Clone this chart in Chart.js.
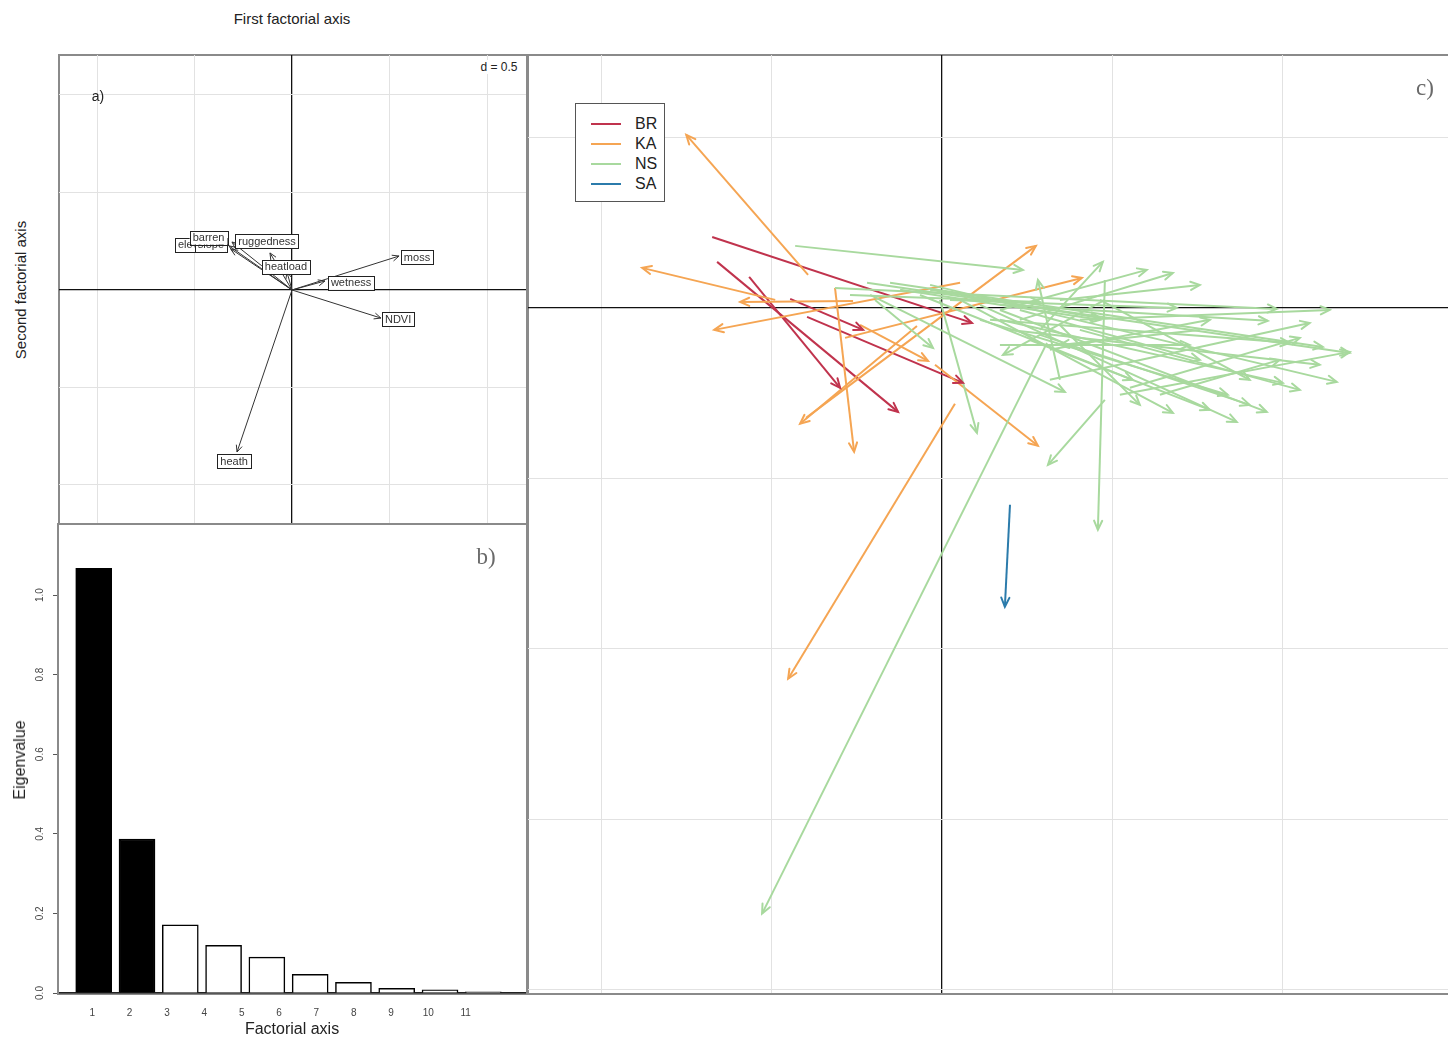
<!DOCTYPE html>
<html lang="en">
<head>
  <meta charset="UTF-8" />
  <title>Factorial analysis</title>
  <script src="https://cdn.jsdelivr.net/npm/chart.js"></script>
  <style>
    body {
      margin: 0;
      width: 1448px;
      height: 1040px;
      position: relative;
      overflow: hidden;
      background: #fff;
      font-family: 'Liberation Sans', Arial, sans-serif;
      color: #222;
    }
    .frame { position: absolute; border: 2px solid #8a8a8a; box-sizing: border-box; }
    canvas { position: absolute; }
    .txt { position: absolute; white-space: nowrap; transform: translate(-50%, -50%); }
    .rot { transform: translate(-50%, -50%) rotate(-90deg); }
    .serif { font-family: 'Liberation Serif', 'DejaVu Serif', serif; color: #6a6a6a; font-size: 23px; }
    .legend {
      position: absolute; left: 575px; top: 103px; width: 90px; height: 99px;
      box-sizing: border-box; border: 1.5px solid #555; background: #fff;
      padding-top: 10px;
    }
    .legend div { height: 20px; display: flex; align-items: center; font-size: 16px; }
    .legend i { display: inline-block; width: 30px; height: 2px; margin: 0 14px 0 15px; }
  </style>
</head>
<body>

  <div class="frame" style="left:58px; top:54px; width:470px; height:471px;"></div>
  <div class="frame" style="left:57px; top:523px; width:471px; height:472px;"></div>
  <div class="frame" style="left:527px; top:54px; width:930px; height:941px;"></div>

  <canvas id="varChart" width="467" height="468" style="left:59px; top:55px;"></canvas>
  <canvas id="eigChart" width="526" height="515" style="left:0px; top:525px;"></canvas>
  <canvas id="siteChart" width="920" height="938" style="left:528px; top:55px;"></canvas>

  <div class="txt" style="left:292px; top:18px; font-size:15px;">First factorial axis</div>
  <div class="txt rot" style="left:20px; top:290px; font-size:15px;">Second factorial axis</div>
  <div class="txt rot" style="left:20px; top:760px; font-size:16px;">Eigenvalue</div>
  <div class="txt" style="left:292px; top:1029px; font-size:16px;">Factorial axis</div>
  <div class="txt" style="left:98px; top:96px; font-size:14px;">a)</div>
  <div class="txt" style="left:499px; top:67px; font-size:12px; background:#fff; padding:0 2px;">d = 0.5</div>
  <div class="txt serif" style="left:486px; top:557px;">b)</div>
  <div class="txt serif" style="left:1425px; top:88px;">c)</div>

  <div class="legend" id="legend"></div>

  <script>
    // a) variable loadings on the first two factorial axes
    const varNames = ['elevation', 'slope', 'barren', 'ruggedness', 'heatload', 'wetness', 'moss', 'NDVI', 'heath'];
    const varX = [-0.323, -0.313, -0.308, -0.113, -0.026, 0.169, 0.549, 0.456, -0.282];
    const varY = [0.226, 0.210, 0.246, 0.190, 0.092, 0.046, 0.174, -0.144, -0.831];
    const labelX = [-0.472, -0.416, -0.428, -0.128, -0.031, 0.303, 0.641, 0.544, -0.297];
    const labelY = [0.231, 0.231, 0.269, 0.251, 0.118, 0.036, 0.169, -0.149, -0.877];

    // b) eigenvalues, first two axes kept
    const eigenvalues = [1.067, 0.387, 0.171, 0.120, 0.090, 0.047, 0.027, 0.012, 0.008, 0.003];
    const keptAxes = 2;
    const axisLabels = ['1', '2', '3', '4', '5', '6', '7', '8', '9', '10', '11'];
    const eigTicks = [0, 0.2, 0.4, 0.6, 0.8, 1.0];

    // c) site trajectories [x0, y0, x1, y1] per region
    const brArrows = [
      [-1.349, 0.416, 0.176, -0.088],
      [-1.320, 0.270, -0.258, -0.610],
      [-1.132, 0.182, -0.598, -0.469],
      [-0.891, 0.053, -0.463, -0.129],
      [-0.792, -0.053, 0.123, -0.440]
    ];
    const kaArrows = [
      [-0.786, 0.194, -1.501, 1.015],
      [-0.979, 0.047, -1.760, 0.235],
      [-0.522, 0.041, -1.185, 0.035],
      [0.106, 0.147, -1.337, -0.129],
      [-0.147, -0.106, -0.833, -0.680],
      [-0.798, -0.645, 0.551, 0.364],
      [-0.628, 0.117, -0.516, -0.845],
      [-0.569, -0.176, 0.821, 0.176],
      [-0.481, -0.100, -0.082, -0.311],
      [-0.041, -0.334, 0.563, -0.809],
      [0.076, -0.563, -0.903, -2.176]
    ];
    const nsArrows = [
      [-0.862, 0.364, 0.475, 0.223],
      [-0.628, 0.117, 1.965, -0.006],
      [-0.440, 0.147, 2.393, -0.264],
      [-0.305, 0.147, 2.235, -0.229],
      [-0.070, 0.135, 2.317, -0.434],
      [-0.393, 0.047, -0.053, -0.235],
      [-0.012, 0.047, 0.205, -0.733],
      [-0.422, 0.076, 0.721, -0.493],
      [0.106, 0.047, 1.355, -0.616],
      [0.223, 0.018, 1.730, -0.669],
      [0.340, -0.012, 1.906, -0.610],
      [0.956, 0.047, 0.358, -0.276],
      [0.956, -0.540, 0.622, -0.921],
      [0.956, 0.164, 0.915, -1.302],
      [0.692, -0.422, 0.563, 0.164],
      [0.575, -0.129, 0.944, 0.270],
      [0.340, -0.012, 1.202, 0.223],
      [0.457, -0.070, 1.355, 0.205],
      [0.047, 0.047, 1.378, 0.000],
      [0.340, 0.018, 1.912, -0.076],
      [0.633, -0.422, 2.158, -0.088],
      [0.282, -0.070, 2.041, -0.205],
      [0.399, -0.129, 2.217, -0.334],
      [1.044, -0.510, 2.393, -0.258],
      [1.103, -0.469, 2.100, -0.176],
      [0.340, -0.070, 2.000, -0.440],
      [0.223, -0.070, 1.677, -0.510],
      [0.575, -0.158, 1.806, -0.569],
      [0.516, -0.188, 1.572, -0.598],
      [0.692, -0.100, 1.161, -0.569],
      [-0.129, 0.076, 1.120, -0.422],
      [-0.070, 0.106, 0.927, -0.059],
      [0.692, 0.047, 1.513, 0.135],
      [1.279, -0.510, 1.982, -0.305],
      [0.633, -0.246, 1.572, -0.070],
      [0.809, -0.129, 2.100, -0.481],
      [1.513, -0.129, 0.692, -0.217],
      [0.457, -0.012, 1.513, -0.305],
      [-0.246, 0.106, 0.927, -0.070],
      [0.340, -0.217, 1.454, -0.217],
      [0.809, -0.070, 2.276, -0.012],
      [0.927, 0.047, 1.806, -0.422],
      [-0.540, 0.076, 0.575, 0.035],
      [0.616, -0.205, -1.056, -3.554]
    ];
    const saArrows = [
      [0.399, -1.155, 0.369, -1.754]
    ];

    const groups = [
      { name: 'BR', color: '#c0334d', arrows: brArrows },
      { name: 'KA', color: '#f5a553', arrows: kaArrows },
      { name: 'NS', color: '#a8d99e', arrows: nsArrows },
      { name: 'SA', color: '#2b7bab', arrows: saArrows }
    ];
    const drawOrder = ['NS', 'KA', 'BR', 'SA'];

    const FONT = "'Liberation Sans', Arial, sans-serif";

    // open arrow head at the second point of every two-point line dataset
    const arrowHeads = {
      id: 'arrowHeads',
      afterDatasetsDraw(chart) {
        const ctx = chart.ctx;
        chart.data.datasets.forEach((ds, i) => {
          const pts = chart.getDatasetMeta(i).data;
          if (pts.length < 2) return;
          const a = pts[0], b = pts[1];
          const ang = Math.atan2(b.y - a.y, b.x - a.x);
          const len = ds.headLen;
          ctx.save();
          ctx.strokeStyle = ds.borderColor;
          ctx.lineWidth = ds.borderWidth;
          ctx.lineCap = 'round';
          ctx.beginPath();
          ctx.moveTo(b.x - len * Math.cos(ang - 0.42), b.y - len * Math.sin(ang - 0.42));
          ctx.lineTo(b.x, b.y);
          ctx.lineTo(b.x - len * Math.cos(ang + 0.42), b.y - len * Math.sin(ang + 0.42));
          ctx.stroke();
          ctx.restore();
        });
      }
    };

    function gridScale(min, max, step) {
      return {
        type: 'linear', min, max,
        afterFit: s => { if (s.isHorizontal()) s.height = 0; else s.width = 0; },
        ticks: { display: false, stepSize: step, includeBounds: false },
        border: { display: false },
        grid: {
          drawTicks: false,
          color: c => Math.abs(c.tick.value) < 1e-9 ? '#111' : '#e2e2e2',
          lineWidth: c => Math.abs(c.tick.value) < 1e-9 ? 1.3 : 1
        }
      };
    }

    const baseOptions = {
      responsive: false,
      animation: false,
      events: [],
      layout: { padding: 0 },
      plugins: { legend: { display: false }, tooltip: { enabled: false } }
    };

    // a) loadings
    const labelBoxes = {
      id: 'labelBoxes',
      afterDatasetsDraw(chart) {
        const ctx = chart.ctx;
        const sx = chart.scales.x, sy = chart.scales.y;
        ctx.save();
        ctx.font = '11px ' + FONT;
        ctx.textAlign = 'center';
        ctx.textBaseline = 'middle';
        varNames.forEach((name, i) => {
          const px = sx.getPixelForValue(labelX[i]);
          const py = sy.getPixelForValue(labelY[i]);
          const w = ctx.measureText(name).width + 6;
          const h = 14;
          ctx.fillStyle = '#fff';
          ctx.fillRect(px - w / 2, py - h / 2, w, h);
          ctx.strokeStyle = '#222';
          ctx.lineWidth = 1;
          ctx.strokeRect(Math.round(px - w / 2) + 0.5, Math.round(py - h / 2) + 0.5, Math.round(w), h);
          ctx.fillStyle = '#333';
          ctx.fillText(name, px, py + 0.5);
        });
        ctx.restore();
      }
    };

    new Chart(document.getElementById('varChart'), {
      type: 'scatter',
      data: {
        datasets: varNames.map((name, i) => ({
          label: name,
          data: [{ x: 0, y: 0 }, { x: varX[i], y: varY[i] }],
          showLine: true,
          pointRadius: 0,
          borderColor: '#333',
          borderWidth: 1,
          headLen: 7
        }))
      },
      options: Object.assign({}, baseOptions, {
        scales: { x: gridScale(-1.195, 1.2, 0.5), y: gridScale(-1.195, 1.205, 0.5) }
      }),
      plugins: [arrowHeads, labelBoxes]
    });

    // b) eigenvalues
    const eigLabels = {
      id: 'eigLabels',
      afterDraw(chart) {
        const ctx = chart.ctx;
        const xl = chart.scales.xl, y = chart.scales.y;
        ctx.save();
        ctx.fillStyle = '#444';
        ctx.font = '10px ' + FONT;
        ctx.textAlign = 'center';
        ctx.textBaseline = 'middle';
        axisLabels.forEach((lab, i) => {
          ctx.fillText(lab, xl.getPixelForValue(i + 1), chart.chartArea.bottom + 20);
        });
        eigTicks.forEach(v => {
          ctx.save();
          ctx.translate(40, y.getPixelForValue(v));
          ctx.rotate(-Math.PI / 2);
          ctx.fillText(v.toFixed(1), 0, 0);
          ctx.restore();
        });
        ctx.restore();
      }
    };

    new Chart(document.getElementById('eigChart'), {
      type: 'bar',
      data: {
        datasets: [{
          data: eigenvalues.map((v, i) => ({ x: i + 1, y: v })),
          backgroundColor: eigenvalues.map((v, i) => i < keptAxes ? '#000' : '#fff'),
          borderColor: '#000',
          borderWidth: 1.5,
          barThickness: 36
        }]
      },
      options: Object.assign({}, baseOptions, {
        scales: {
          x: {
            type: 'linear', min: 0.175, max: 10.986, offset: false,
            afterFit: s => { s.height = 47; },
            ticks: { display: false },
            grid: { display: false, offset: false },
            border: { display: true, color: '#222', width: 1.5 }
          },
          xl: {
            type: 'linear', position: 'bottom', display: false, offset: false,
            min: 0.081, max: 12.615
          },
          y: {
            type: 'linear', min: 0, max: 1.176,
            afterFit: s => { s.width = 58; },
            afterBuildTicks: s => { s.ticks = eigTicks.map(v => ({ value: v })); },
            ticks: { display: false },
            grid: { drawOnChartArea: false, drawTicks: true, tickLength: 5, color: '#555' },
            border: { display: true, color: '#8a8a8a', width: 2 }
          }
        }
      }),
      plugins: [eigLabels]
    });

    // c) site trajectories
    const siteSets = [];
    drawOrder.forEach(key => {
      const g = groups.find(gr => gr.name === key);
      g.arrows.forEach(a => {
        siteSets.push({
          label: g.name,
          data: [{ x: a[0], y: a[1] }, { x: a[2], y: a[3] }],
          showLine: true,
          pointRadius: 0,
          borderColor: g.color,
          borderWidth: 2,
          headLen: 10
        });
      });
    });

    new Chart(document.getElementById('siteChart'), {
      type: 'scatter',
      data: { datasets: siteSets },
      options: Object.assign({}, baseOptions, {
        scales: { x: gridScale(-2.43, 2.97, 1), y: gridScale(-4.02, 1.484, 1) }
      }),
      plugins: [arrowHeads]
    });

    // legend for c)
    const legend = document.getElementById('legend');
    groups.forEach(g => {
      const row = document.createElement('div');
      row.innerHTML = `<i style="background:${g.color}"></i>${g.name}`;
      legend.appendChild(row);
    });
  </script>
</body>
</html>
